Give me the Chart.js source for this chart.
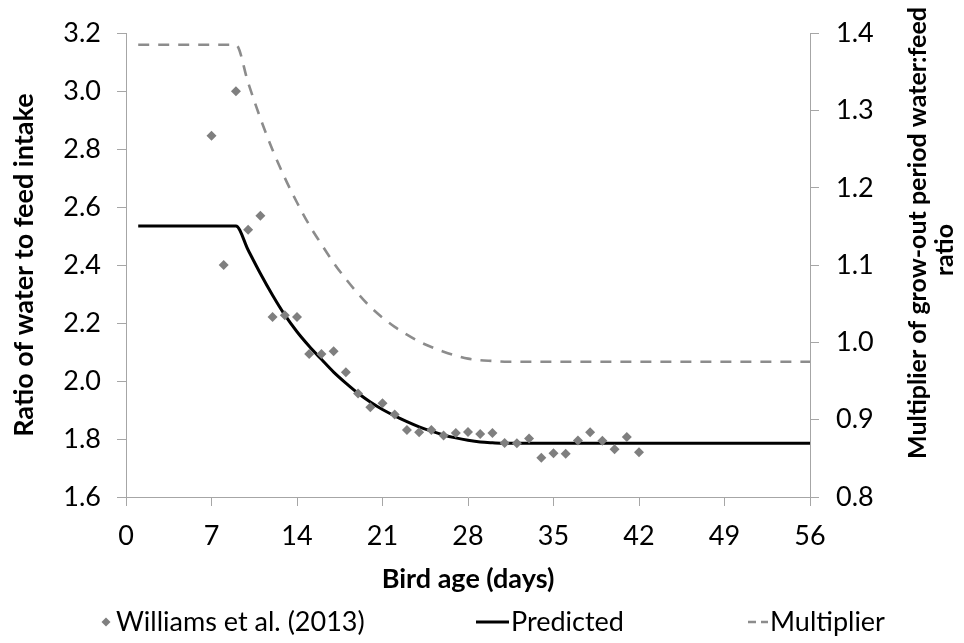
<!DOCTYPE html>
<html><head><meta charset="utf-8">
<script src="https://cdn.jsdelivr.net/npm/chart.js@4.4.0/dist/chart.umd.min.js"></script>
<style>html,body{margin:0;padding:0;background:#fff;}</style>
</head><body>
<canvas id="c" width="964" height="643"></canvas>
<script>
// ---- data ----
const obsDays = [7,8,9,10,11,12,13,14,15,16,17,18,19,20,21,22,23,24,25,26,27,28,29,30,31,32,33,34,35,36,37,38,39,40,41,42];
const williams = [2.846,2.40,3.00,2.522,2.570,2.221,2.227,2.221,2.093,2.093,2.103,2.030,1.957,1.910,1.923,1.885,1.831,1.823,1.831,1.812,1.821,1.824,1.817,1.821,1.786,1.785,1.802,1.735,1.751,1.749,1.795,1.823,1.794,1.765,1.807,1.754];
const modelDays = [1,2,3,4,5,6,7,8,9,10,11,12,13,14,15,16,17,18,19,20,21,22,23,24,25,26,27,28,29,30,31,32,33,34,35,36,37,38,39,40,41,42,43,44,45,46,47,48,49,50,51,52,53,54,55,56];
const predicted = [2.535,2.535,2.535,2.535,2.535,2.535,2.535,2.535,2.535,2.452,2.371,2.296,2.228,2.170,2.120,2.075,2.031,1.993,1.958,1.928,1.902,1.880,1.860,1.842,1.827,1.814,1.804,1.796,1.790,1.787,1.785,1.785,1.785,1.785,1.785,1.785,1.785,1.785,1.785,1.785,1.785,1.785,1.785,1.785,1.785,1.785,1.785,1.785,1.785,1.785,1.785,1.785,1.785,1.785,1.785,1.785];
const multiplier = [1.385,1.385,1.385,1.385,1.385,1.385,1.385,1.385,1.385,1.336,1.290,1.249,1.213,1.181,1.152,1.127,1.103,1.082,1.063,1.046,1.032,1.020,1.010,1.001,0.994,0.988,0.983,0.979,0.977,0.976,0.975,0.975,0.975,0.975,0.975,0.975,0.975,0.975,0.975,0.975,0.975,0.975,0.975,0.975,0.975,0.975,0.975,0.975,0.975,0.975,0.975,0.975,0.975,0.975,0.975,0.975];
const xTicks = [0,7,14,21,28,35,42,49,56];
const seriesNames = ['Williams et al. (2013)','Predicted','Multiplier'];
const xTitle = 'Bird age (days)';
const yTitle = 'Ratio of water to feed intake';
const y2Title = ['Multiplier of grow-out period water:feed','ratio'];

const FONT = 'Lato';
const FS = 27;
const AXIS = '#a6a6a6';
const GREY = '#7f7f7f';
const DASHGREY = '#8c8c8c';

// right axis title, read bottom-to-top like the reference
const rightTitle = {
  id:'rightTitle',
  afterDraw(chart){
    const ctx = chart.ctx;
    ctx.save();
    ctx.font = 'bold 25px '+FONT;
    ctx.fillStyle = '#000';
    ctx.textAlign = 'center'; ctx.textBaseline = 'middle';
    const pos = [[918,233],[945,250]];
    y2Title.forEach((t,i)=>{
      ctx.save(); ctx.translate(pos[i][0], pos[i][1]); ctx.rotate(-Math.PI/2); ctx.fillText(t,0,0); ctx.restore();
    });
    ctx.restore();
  }
};

// legend laid out like the reference (entries in their own columns)
const bottomLegend = {
  id:'bottomLegend',
  afterDraw(chart){
    const ctx = chart.ctx;
    const ly = 622;
    const ds = chart.data.datasets;
    ctx.save();
    ctx.font = FS+'px '+FONT;
    ctx.fillStyle = '#000';
    ctx.textBaseline = 'middle'; ctx.textAlign = 'left';
    const dx = 106, r = 4.5;
    ctx.fillStyle = ds[0].pointBackgroundColor;
    ctx.beginPath(); ctx.moveTo(dx,ly-r); ctx.lineTo(dx+r,ly); ctx.lineTo(dx,ly+r); ctx.lineTo(dx-r,ly); ctx.closePath(); ctx.fill();
    ctx.fillStyle = '#000'; ctx.fillText(ds[0].label, 116, ly);
    ctx.strokeStyle = ds[1].borderColor; ctx.lineWidth = 3;
    ctx.beginPath(); ctx.moveTo(476,ly); ctx.lineTo(509,ly); ctx.stroke();
    ctx.fillText(ds[1].label, 511, ly);
    ctx.strokeStyle = ds[2].borderColor; ctx.lineWidth = 2.6;
    ctx.beginPath(); ctx.moveTo(748,ly); ctx.lineTo(756,ly); ctx.moveTo(761,ly); ctx.lineTo(768,ly); ctx.stroke();
    ctx.fillText(ds[2].label, 770, ly);
    ctx.restore();
  }
};

const gridOpts = {display:true, drawOnChartArea:false, drawTicks:true, tickLength:9, color:AXIS, lineWidth:1};
const borderOpts = {display:true, color:AXIS, width:1};

new Chart(document.getElementById('c'), {
  type:'scatter',
  data:{
    datasets:[
      {label:seriesNames[0], data:obsDays.map((d,i)=>({x:d,y:williams[i]})), yAxisID:'y',
       pointStyle:'rectRot', pointRadius:5, pointBackgroundColor:GREY, pointBorderColor:GREY, pointBorderWidth:0, showLine:false, order:1},
      {label:seriesNames[1], type:'line', data:modelDays.map((d,i)=>({x:d,y:predicted[i]})), yAxisID:'y',
       borderColor:'#000', borderWidth:3, pointRadius:0, cubicInterpolationMode:'monotone', fill:false, order:2},
      {label:seriesNames[2], type:'line', data:modelDays.map((d,i)=>({x:d,y:multiplier[i]})), yAxisID:'y2',
       borderColor:DASHGREY, borderWidth:2.6, borderDash:[11,9], pointRadius:0, cubicInterpolationMode:'monotone', fill:false, order:3}
    ]
  },
  options:{
    responsive:false, animation:false, devicePixelRatio:1,
    layout:{padding:{top:28,left:0,right:0,bottom:48}},
    plugins:{
      tooltip:{enabled:false},
      legend:{display:false}
    },
    scales:{
      x:{type:'linear', position:'bottom', min:0, max:56,
         afterBuildTicks(s){ s.ticks = xTicks.map(v=>({value:v})); },
         ticks:{font:{family:FONT,size:FS}, color:'#000', padding:14, maxRotation:0, autoSkip:false},
         grid:gridOpts, border:borderOpts,
         title:{display:true, text:xTitle, font:{family:FONT,size:FS,weight:'bold'}, color:'#000', padding:{top:0,bottom:0}},
         afterFit(s){ s.height = 98; }
      },
      y:{type:'linear', position:'left', min:1.6, max:3.2,
         ticks:{stepSize:0.2, font:{family:FONT,size:FS}, color:'#000', padding:16, callback:v=>v.toFixed(1)},
         grid:gridOpts, border:borderOpts,
         title:{display:true, text:yTitle, font:{family:FONT,size:FS,weight:'bold'}, color:'#000', padding:{top:8,bottom:0}},
         afterFit(s){ s.width = 126; }
      },
      y2:{type:'linear', position:'right', min:0.8, max:1.4,
         ticks:{stepSize:0.1, font:{family:FONT,size:FS}, color:'#000', padding:17, callback:v=>v.toFixed(1)},
         grid:gridOpts, border:borderOpts,
         afterFit(s){ s.width = 154; }
      }
    }
  },
  plugins:[rightTitle, bottomLegend]
});
</script>
</body></html>
